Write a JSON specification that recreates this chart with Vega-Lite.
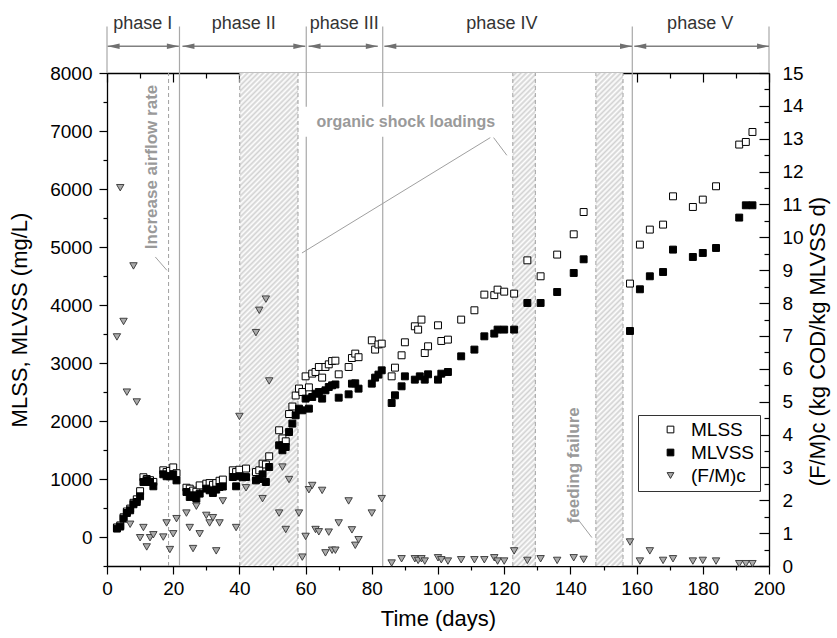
{
"$schema":"https://vega.github.io/schema/vega-lite/v6.json",
"width":662,"height":493,
"autosize":{"type":"none"},
"padding":{"left":107,"top":73,"right":68,"bottom":72},
"background":"white",
"config":{"font":"Liberation Sans","view":{"stroke":null},
"axis":{"grid":false,"domainColor":"#000","tickColor":"#000","labelColor":"#000","titleColor":"#000","titleFontWeight":"normal","domainWidth":1.3,"tickWidth":1.2,"labelFontSize":19,"titleFontSize":22,"labelFont":"Liberation Sans","titleFont":"Liberation Sans","labelOverlap":false,"labelFlush":false,"zindex":1},
"legend":{"orient":"none","legendX":531,"legendY":342,"title":null,"strokeColor":"#333","fillColor":"#fff","padding":5,"symbolOffset":18,"labelOffset":11,"labelFontSize":19,"labelColor":"#000","rowPadding":3,"symbolSize":45,"symbolStrokeWidth":1}},
"layer":[
{"layer":[
{"data":{"values":[{"d":40.1,"d2":155.9,"v":-500,"v2":8000}]},
"mark":{"type":"rect","fill":{"gradient":"linear","x1":0,"y1":0,"x2":0.8613,"y2":1.1078,"stops":[
{"offset":0,"color":"#fff"},{"offset":0.003,"color":"#d2d2d2"},{"offset":0.006,"color":"#fff"},{"offset":0.009,"color":"#d2d2d2"},{"offset":0.012,"color":"#fff"},{"offset":0.015,"color":"#d2d2d2"},{"offset":0.018,"color":"#fff"},{"offset":0.021,"color":"#d2d2d2"},{"offset":0.024,"color":"#fff"},{"offset":0.027,"color":"#d2d2d2"},
{"offset":0.03,"color":"#fff"},{"offset":0.033,"color":"#d2d2d2"},{"offset":0.036,"color":"#fff"},{"offset":0.039,"color":"#d2d2d2"},{"offset":0.042,"color":"#fff"},{"offset":0.045,"color":"#d2d2d2"},{"offset":0.048,"color":"#fff"},{"offset":0.051,"color":"#d2d2d2"},{"offset":0.054,"color":"#fff"},{"offset":0.057,"color":"#d2d2d2"},
{"offset":0.06,"color":"#fff"},{"offset":0.063,"color":"#d2d2d2"},{"offset":0.066,"color":"#fff"},{"offset":0.069,"color":"#d2d2d2"},{"offset":0.072,"color":"#fff"},{"offset":0.075,"color":"#d2d2d2"},{"offset":0.078,"color":"#fff"},{"offset":0.081,"color":"#d2d2d2"},{"offset":0.084,"color":"#fff"},{"offset":0.087,"color":"#d2d2d2"},
{"offset":0.09,"color":"#fff"},{"offset":0.093,"color":"#d2d2d2"},{"offset":0.096,"color":"#fff"},{"offset":0.099,"color":"#d2d2d2"},{"offset":0.102,"color":"#fff"},{"offset":0.105,"color":"#d2d2d2"},{"offset":0.108,"color":"#fff"},{"offset":0.111,"color":"#d2d2d2"},{"offset":0.114,"color":"#fff"},{"offset":0.117,"color":"#d2d2d2"},
{"offset":0.12,"color":"#fff"},{"offset":0.123,"color":"#d2d2d2"},{"offset":0.126,"color":"#fff"},{"offset":0.129,"color":"#d2d2d2"},{"offset":0.132,"color":"#fff"},{"offset":0.135,"color":"#d2d2d2"},{"offset":0.138,"color":"#fff"},{"offset":0.141,"color":"#d2d2d2"},{"offset":0.144,"color":"#fff"},{"offset":0.147,"color":"#d2d2d2"},
{"offset":0.15,"color":"#fff"},{"offset":0.153,"color":"#d2d2d2"},{"offset":0.156,"color":"#fff"},{"offset":0.159,"color":"#d2d2d2"},{"offset":0.162,"color":"#fff"},{"offset":0.165,"color":"#d2d2d2"},{"offset":0.168,"color":"#fff"},{"offset":0.171,"color":"#d2d2d2"},{"offset":0.174,"color":"#fff"},{"offset":0.177,"color":"#d2d2d2"},
{"offset":0.18,"color":"#fff"},{"offset":0.183,"color":"#d2d2d2"},{"offset":0.186,"color":"#fff"},{"offset":0.189,"color":"#d2d2d2"},{"offset":0.192,"color":"#fff"},{"offset":0.195,"color":"#d2d2d2"},{"offset":0.198,"color":"#fff"},{"offset":0.201,"color":"#d2d2d2"},{"offset":0.204,"color":"#fff"},{"offset":0.207,"color":"#d2d2d2"},
{"offset":0.21,"color":"#fff"},{"offset":0.213,"color":"#d2d2d2"},{"offset":0.216,"color":"#fff"},{"offset":0.219,"color":"#d2d2d2"},{"offset":0.222,"color":"#fff"},{"offset":0.225,"color":"#d2d2d2"},{"offset":0.228,"color":"#fff"},{"offset":0.231,"color":"#d2d2d2"},{"offset":0.234,"color":"#fff"},{"offset":0.237,"color":"#d2d2d2"},
{"offset":0.24,"color":"#fff"},{"offset":0.243,"color":"#d2d2d2"},{"offset":0.246,"color":"#fff"},{"offset":0.249,"color":"#d2d2d2"},{"offset":0.252,"color":"#fff"},{"offset":0.255,"color":"#d2d2d2"},{"offset":0.258,"color":"#fff"},{"offset":0.261,"color":"#d2d2d2"},{"offset":0.264,"color":"#fff"},{"offset":0.267,"color":"#d2d2d2"},
{"offset":0.27,"color":"#fff"},{"offset":0.273,"color":"#d2d2d2"},{"offset":0.276,"color":"#fff"},{"offset":0.279,"color":"#d2d2d2"},{"offset":0.282,"color":"#fff"},{"offset":0.285,"color":"#d2d2d2"},{"offset":0.288,"color":"#fff"},{"offset":0.291,"color":"#d2d2d2"},{"offset":0.294,"color":"#fff"},{"offset":0.297,"color":"#d2d2d2"},
{"offset":0.3,"color":"#fff"},{"offset":0.303,"color":"#d2d2d2"},{"offset":0.306,"color":"#fff"},{"offset":0.309,"color":"#d2d2d2"},{"offset":0.312,"color":"#fff"},{"offset":0.315,"color":"#d2d2d2"},{"offset":0.318,"color":"#fff"},{"offset":0.321,"color":"#d2d2d2"},{"offset":0.324,"color":"#fff"},{"offset":0.327,"color":"#d2d2d2"},
{"offset":0.33,"color":"#fff"},{"offset":0.333,"color":"#d2d2d2"},{"offset":0.336,"color":"#fff"},{"offset":0.339,"color":"#d2d2d2"},{"offset":0.342,"color":"#fff"},{"offset":0.345,"color":"#d2d2d2"},{"offset":0.348,"color":"#fff"},{"offset":0.351,"color":"#d2d2d2"},{"offset":0.354,"color":"#fff"},{"offset":0.357,"color":"#d2d2d2"},
{"offset":0.36,"color":"#fff"},{"offset":0.363,"color":"#d2d2d2"},{"offset":0.366,"color":"#fff"},{"offset":0.369,"color":"#d2d2d2"},{"offset":0.372,"color":"#fff"},{"offset":0.375,"color":"#d2d2d2"},{"offset":0.378,"color":"#fff"},{"offset":0.381,"color":"#d2d2d2"},{"offset":0.384,"color":"#fff"},{"offset":0.387,"color":"#d2d2d2"},
{"offset":0.39,"color":"#fff"},{"offset":0.393,"color":"#d2d2d2"},{"offset":0.396,"color":"#fff"},{"offset":0.399,"color":"#d2d2d2"},{"offset":0.402,"color":"#fff"},{"offset":0.405,"color":"#d2d2d2"},{"offset":0.408,"color":"#fff"},{"offset":0.411,"color":"#d2d2d2"},{"offset":0.414,"color":"#fff"},{"offset":0.417,"color":"#d2d2d2"},
{"offset":0.42,"color":"#fff"},{"offset":0.423,"color":"#d2d2d2"},{"offset":0.426,"color":"#fff"},{"offset":0.429,"color":"#d2d2d2"},{"offset":0.432,"color":"#fff"},{"offset":0.435,"color":"#d2d2d2"},{"offset":0.438,"color":"#fff"},{"offset":0.441,"color":"#d2d2d2"},{"offset":0.444,"color":"#fff"},{"offset":0.447,"color":"#d2d2d2"},
{"offset":0.45,"color":"#fff"},{"offset":0.453,"color":"#d2d2d2"},{"offset":0.456,"color":"#fff"},{"offset":0.459,"color":"#d2d2d2"},{"offset":0.462,"color":"#fff"},{"offset":0.465,"color":"#d2d2d2"},{"offset":0.468,"color":"#fff"},{"offset":0.471,"color":"#d2d2d2"},{"offset":0.474,"color":"#fff"},{"offset":0.477,"color":"#d2d2d2"},
{"offset":0.48,"color":"#fff"},{"offset":0.483,"color":"#d2d2d2"},{"offset":0.486,"color":"#fff"},{"offset":0.489,"color":"#d2d2d2"},{"offset":0.492,"color":"#fff"},{"offset":0.495,"color":"#d2d2d2"},{"offset":0.498,"color":"#fff"},{"offset":0.501,"color":"#d2d2d2"},{"offset":0.504,"color":"#fff"},{"offset":0.507,"color":"#d2d2d2"},
{"offset":0.51,"color":"#fff"},{"offset":0.513,"color":"#d2d2d2"},{"offset":0.516,"color":"#fff"},{"offset":0.519,"color":"#d2d2d2"},{"offset":0.522,"color":"#fff"},{"offset":0.525,"color":"#d2d2d2"},{"offset":0.528,"color":"#fff"},{"offset":0.531,"color":"#d2d2d2"},{"offset":0.534,"color":"#fff"},{"offset":0.537,"color":"#d2d2d2"},
{"offset":0.54,"color":"#fff"},{"offset":0.543,"color":"#d2d2d2"},{"offset":0.546,"color":"#fff"},{"offset":0.549,"color":"#d2d2d2"},{"offset":0.552,"color":"#fff"},{"offset":0.555,"color":"#d2d2d2"},{"offset":0.558,"color":"#fff"},{"offset":0.561,"color":"#d2d2d2"},{"offset":0.564,"color":"#fff"},{"offset":0.567,"color":"#d2d2d2"},
{"offset":0.57,"color":"#fff"},{"offset":0.573,"color":"#d2d2d2"},{"offset":0.576,"color":"#fff"},{"offset":0.579,"color":"#d2d2d2"},{"offset":0.582,"color":"#fff"},{"offset":0.585,"color":"#d2d2d2"},{"offset":0.588,"color":"#fff"},{"offset":0.591,"color":"#d2d2d2"},{"offset":0.594,"color":"#fff"},{"offset":0.597,"color":"#d2d2d2"},
{"offset":0.6,"color":"#fff"},{"offset":0.603,"color":"#d2d2d2"},{"offset":0.606,"color":"#fff"},{"offset":0.609,"color":"#d2d2d2"},{"offset":0.612,"color":"#fff"},{"offset":0.615,"color":"#d2d2d2"},{"offset":0.618,"color":"#fff"},{"offset":0.621,"color":"#d2d2d2"},{"offset":0.624,"color":"#fff"},{"offset":0.627,"color":"#d2d2d2"},
{"offset":0.63,"color":"#fff"},{"offset":0.633,"color":"#d2d2d2"},{"offset":0.636,"color":"#fff"},{"offset":0.639,"color":"#d2d2d2"},{"offset":0.642,"color":"#fff"},{"offset":0.645,"color":"#d2d2d2"},{"offset":0.648,"color":"#fff"},{"offset":0.651,"color":"#d2d2d2"},{"offset":0.654,"color":"#fff"},{"offset":0.657,"color":"#d2d2d2"},
{"offset":0.66,"color":"#fff"},{"offset":0.663,"color":"#d2d2d2"},{"offset":0.666,"color":"#fff"},{"offset":0.669,"color":"#d2d2d2"},{"offset":0.672,"color":"#fff"},{"offset":0.675,"color":"#d2d2d2"},{"offset":0.678,"color":"#fff"},{"offset":0.681,"color":"#d2d2d2"},{"offset":0.684,"color":"#fff"},{"offset":0.687,"color":"#d2d2d2"},
{"offset":0.69,"color":"#fff"},{"offset":0.693,"color":"#d2d2d2"},{"offset":0.696,"color":"#fff"},{"offset":0.699,"color":"#d2d2d2"},{"offset":0.702,"color":"#fff"},{"offset":0.705,"color":"#d2d2d2"},{"offset":0.708,"color":"#fff"},{"offset":0.711,"color":"#d2d2d2"},{"offset":0.714,"color":"#fff"},{"offset":0.717,"color":"#d2d2d2"},
{"offset":0.72,"color":"#fff"},{"offset":0.723,"color":"#d2d2d2"},{"offset":0.726,"color":"#fff"},{"offset":0.729,"color":"#d2d2d2"},{"offset":0.732,"color":"#fff"},{"offset":0.735,"color":"#d2d2d2"},{"offset":0.738,"color":"#fff"},{"offset":0.741,"color":"#d2d2d2"},{"offset":0.744,"color":"#fff"},{"offset":0.747,"color":"#d2d2d2"},
{"offset":0.75,"color":"#fff"},{"offset":0.753,"color":"#d2d2d2"},{"offset":0.756,"color":"#fff"},{"offset":0.759,"color":"#d2d2d2"},{"offset":0.762,"color":"#fff"},{"offset":0.765,"color":"#d2d2d2"},{"offset":0.768,"color":"#fff"},{"offset":0.771,"color":"#d2d2d2"},{"offset":0.774,"color":"#fff"},{"offset":0.777,"color":"#d2d2d2"},
{"offset":0.78,"color":"#fff"},{"offset":0.783,"color":"#d2d2d2"},{"offset":0.786,"color":"#fff"},{"offset":0.789,"color":"#d2d2d2"},{"offset":0.792,"color":"#fff"},{"offset":0.795,"color":"#d2d2d2"},{"offset":0.798,"color":"#fff"},{"offset":0.801,"color":"#d2d2d2"},{"offset":0.804,"color":"#fff"},{"offset":0.807,"color":"#d2d2d2"},
{"offset":0.81,"color":"#fff"},{"offset":0.813,"color":"#d2d2d2"},{"offset":0.816,"color":"#fff"},{"offset":0.819,"color":"#d2d2d2"},{"offset":0.822,"color":"#fff"},{"offset":0.825,"color":"#d2d2d2"},{"offset":0.828,"color":"#fff"},{"offset":0.831,"color":"#d2d2d2"},{"offset":0.834,"color":"#fff"},{"offset":0.837,"color":"#d2d2d2"},
{"offset":0.84,"color":"#fff"},{"offset":0.843,"color":"#d2d2d2"},{"offset":0.846,"color":"#fff"},{"offset":0.849,"color":"#d2d2d2"},{"offset":0.852,"color":"#fff"},{"offset":0.855,"color":"#d2d2d2"},{"offset":0.858,"color":"#fff"},{"offset":0.861,"color":"#d2d2d2"},{"offset":0.864,"color":"#fff"},{"offset":0.867,"color":"#d2d2d2"},
{"offset":0.87,"color":"#fff"},{"offset":0.873,"color":"#d2d2d2"},{"offset":0.876,"color":"#fff"},{"offset":0.879,"color":"#d2d2d2"},{"offset":0.882,"color":"#fff"},{"offset":0.885,"color":"#d2d2d2"},{"offset":0.888,"color":"#fff"},{"offset":0.891,"color":"#d2d2d2"},{"offset":0.894,"color":"#fff"},{"offset":0.897,"color":"#d2d2d2"},
{"offset":0.9,"color":"#fff"},{"offset":0.903,"color":"#d2d2d2"},{"offset":0.906,"color":"#fff"},{"offset":0.909,"color":"#d2d2d2"},{"offset":0.912,"color":"#fff"},{"offset":0.915,"color":"#d2d2d2"},{"offset":0.918,"color":"#fff"},{"offset":0.921,"color":"#d2d2d2"},{"offset":0.924,"color":"#fff"},{"offset":0.927,"color":"#d2d2d2"},
{"offset":0.93,"color":"#fff"},{"offset":0.933,"color":"#d2d2d2"},{"offset":0.936,"color":"#fff"},{"offset":0.939,"color":"#d2d2d2"},{"offset":0.942,"color":"#fff"},{"offset":0.945,"color":"#d2d2d2"},{"offset":0.948,"color":"#fff"},{"offset":0.951,"color":"#d2d2d2"},{"offset":0.954,"color":"#fff"},{"offset":0.957,"color":"#d2d2d2"},
{"offset":0.96,"color":"#fff"},{"offset":0.963,"color":"#d2d2d2"},{"offset":0.966,"color":"#fff"},{"offset":0.969,"color":"#d2d2d2"},{"offset":0.972,"color":"#fff"},{"offset":0.975,"color":"#d2d2d2"},{"offset":0.978,"color":"#fff"},{"offset":0.981,"color":"#d2d2d2"},{"offset":0.984,"color":"#fff"},{"offset":0.987,"color":"#d2d2d2"},
{"offset":0.99,"color":"#fff"},{"offset":0.993,"color":"#d2d2d2"},{"offset":0.996,"color":"#fff"},{"offset":0.999,"color":"#d2d2d2"},{"offset":1,"color":"#fff"}
]}},
"encoding":{
"x":{"field":"d","type":"quantitative","scale":{"domain":[0,200],"nice":false,"zero":false},"axis":{"orient":"bottom","title":"Time (days)","values":[0,20,40,60,80,100,120,140,160,180,200],"format":"d","tickSize":8,"labelPadding":5,"titlePadding":10}},
"x2":{"field":"d2"},
"y":{"field":"v","type":"quantitative","scale":{"domain":[-500,8000],"nice":false,"zero":false},"axis":{"orient":"left","title":"MLSS, MLVSS (mg/L)","values":[0,1000,2000,3000,4000,5000,6000,7000,8000],"format":"d","tickSize":8,"labelPadding":7,"titlePadding":18}},
"y2":{"field":"v2"}}},
{"data":{"values":[{"d":57.75,"d2":122.55,"v":-500,"v2":8000},{"d":129.45,"d2":147.65,"v":-500,"v2":8000}]},
"mark":{"type":"rect","fill":"#ffffff"},
"encoding":{"x":{"field":"d","type":"quantitative","axis":{"orient":"bottom","title":null,"values":[10,30,50,70,90,110,130,150,170,190],"labels":false,"domain":false,"tickSize":4}},"x2":{"field":"d2"},"y":{"field":"v","type":"quantitative","axis":{"orient":"left","title":null,"values":[-500,500,1500,2500,3500,4500,5500,6500,7500],"labels":false,"domain":false,"tickSize":4}},"y2":{"field":"v2"}}},
{"data":{"values":[{"d":18.6,"v":-500,"v2":8000},{"d":40.1,"v":-500,"v2":8000},{"d":57.7,"v":-500,"v2":8000},{"d":122.6,"v":-500,"v2":8000},{"d":129.4,"v":-500,"v2":8000},{"d":147.7,"v":-500,"v2":8000},{"d":155.9,"v":-500,"v2":8000}]},
"mark":{"type":"rule","color":"#a0a0a0","strokeWidth":1,"strokeDash":[4,3]},
"encoding":{"x":{"field":"d","type":"quantitative","axis":{"orient":"top","title":null,"values":[0,20,40,60,80,100,120,140,160,180,200],"labels":false,"tickSize":-9}},"y":{"field":"v","type":"quantitative","axis":null},"y2":{"field":"v2"}}},
{"data":{"values":[{"d":21.9,"v":-500,"v2":8800},{"d":60.2,"v":-500,"v2":8800},{"d":83.3,"v":-500,"v2":8800},{"d":158.7,"v":-500,"v2":8800},{"d":0,"v":8000,"v2":8800},{"d":200,"v":8000,"v2":8800}]},
"mark":{"type":"rule","color":"#a8a8a8","strokeWidth":1.2},
"encoding":{"x":{"field":"d","type":"quantitative","axis":{"orient":"top","title":null,"values":[10,30,50,70,90,110,130,150,170,190],"labels":false,"domain":false,"tickSize":-5}},"y":{"field":"v","type":"quantitative","axis":null},"y2":{"field":"v2"}}},
{"data":{"values":[{"d":59.4,"d2":121.5,"v":6900,"v2":7420}]},
"mark":{"type":"rect","fill":"#ffffff"},
"encoding":{"x":{"field":"d","type":"quantitative","axis":null},"x2":{"field":"d2"},"y":{"field":"v","type":"quantitative","axis":null},"y2":{"field":"v2"}}},
{"data":{"values":[{"d":14.6,"v":4828,"d2":18.1,"v2":4598},{"d":115.8,"v":6886,"d2":58.9,"v2":4897},{"d":116.8,"v":6886,"d2":120.8,"v2":6581},{"d":142.5,"v":288,"d2":146.5,"v2":-10}]},
"mark":{"type":"rule","color":"#a0a0a0","strokeWidth":1},
"encoding":{"x":{"field":"d","type":"quantitative","axis":null},"x2":{"field":"d2"},"y":{"field":"v","type":"quantitative","axis":null},"y2":{"field":"v2"}}},
{"data":{"values":[{"d":0.2,"d2":21.7,"v":8460},{"d":22.8,"d2":59.9,"v":8460},{"d":60.9,"d2":81.8,"v":8460},{"d":83.8,"d2":158.6,"v":8460},{"d":159.3,"d2":200,"v":8460}]},
"mark":{"type":"rule","color":"#808080","strokeWidth":1.5},
"encoding":{"x":{"field":"d","type":"quantitative","axis":null},"x2":{"field":"d2"},"y":{"field":"v","type":"quantitative","axis":null}}},
{"data":{"values":[{"d":19.9,"v":8460},{"d":58.1,"v":8460},{"d":80.0,"v":8460},{"d":156.8,"v":8460},{"d":198.2,"v":8460}]},
"mark":{"type":"point","shape":"M1,0L-1,-0.45L-1,0.45Z","size":144,"filled":true,"fill":"#707070","stroke":null,"opacity":1},
"encoding":{"x":{"field":"d","type":"quantitative","axis":null},"y":{"field":"v","type":"quantitative","axis":null}}},
{"data":{"values":[{"d":2.0,"v":8460},{"d":24.6,"v":8460},{"d":62.7,"v":8460},{"d":85.6,"v":8460},{"d":161.1,"v":8460}]},
"mark":{"type":"point","shape":"M-1,0L1,-0.45L1,0.45Z","size":144,"filled":true,"fill":"#707070","stroke":null,"opacity":1},
"encoding":{"x":{"field":"d","type":"quantitative","axis":null},"y":{"field":"v","type":"quantitative","axis":null}}},
{"data":{"values":[{"d":10.8,"v":8850,"t":"phase I"},{"d":41.3,"v":8850,"t":"phase II"},{"d":71.7,"v":8850,"t":"phase III"},{"d":119.3,"v":8850,"t":"phase IV"},{"d":179.2,"v":8850,"t":"phase V"}]},
"mark":{"type":"text","fontSize":18,"color":"#333333","align":"center","baseline":"middle"},
"encoding":{"x":{"field":"d","type":"quantitative","axis":null},"y":{"field":"v","type":"quantitative","axis":null},"text":{"field":"t"}}},
{"data":{"values":[{"d":90.3,"v":7155,"t":"organic shock loadings"}]},
"mark":{"type":"text","fontSize":16,"fontWeight":"bold","color":"#9a9a9a","align":"center","baseline":"middle"},
"encoding":{"x":{"field":"d","type":"quantitative","axis":null},"y":{"field":"v","type":"quantitative","axis":null},"text":{"field":"t"}}},
{"data":{"values":[{"d":13.6,"v":6380,"t":"Increase airflow rate"},{"d":141.2,"v":1236,"t":"feeding failure"}]},
"mark":{"type":"text","fontSize":17,"fontWeight":"bold","color":"#9a9a9a","align":"center","baseline":"middle","angle":270},
"encoding":{"x":{"field":"d","type":"quantitative","axis":null},"y":{"field":"v","type":"quantitative","axis":null},"text":{"field":"t"}}},
{"data":{"values":[
{"d":3,"v":165,"s":"MLSS"},{"d":4,"v":200,"s":"MLSS"},{"d":5,"v":340,"s":"MLSS"},{"d":6,"v":440,"s":"MLSS"},{"d":7,"v":490,"s":"MLSS"},{"d":8,"v":590,"s":"MLSS"},{"d":9,"v":650,"s":"MLSS"},{"d":10,"v":790,"s":"MLSS"},{"d":11,"v":1030,"s":"MLSS"},{"d":12,"v":1000,"s":"MLSS"},{"d":13,"v":980,"s":"MLSS"},{"d":14,"v":950,"s":"MLSS"},{"d":17,"v":1150,"s":"MLSS"},{"d":18,"v":1120,"s":"MLSS"},{"d":19,"v":1140,"s":"MLSS"},{"d":20,"v":1200,"s":"MLSS"},{"d":21,"v":1100,"s":"MLSS"},{"d":24,"v":850,"s":"MLSS"},{"d":25,"v":834,"s":"MLSS"},{"d":26,"v":800,"s":"MLSS"},{"d":27,"v":780,"s":"MLSS"},{"d":28,"v":890,"s":"MLSS"},{"d":30,"v":920,"s":"MLSS"},{"d":31,"v":930,"s":"MLSS"},{"d":32,"v":900,"s":"MLSS"},{"d":33,"v":930,"s":"MLSS"},{"d":34,"v":970,"s":"MLSS"},{"d":35,"v":990,"s":"MLSS"},{"d":38,"v":1150,"s":"MLSS"},{"d":39,"v":1120,"s":"MLSS"},{"d":40,"v":1160,"s":"MLSS"},{"d":42,"v":1180,"s":"MLSS"},{"d":45,"v":1120,"s":"MLSS"},{"d":46,"v":1150,"s":"MLSS"},{"d":47,"v":1265,"s":"MLSS"},{"d":48,"v":1250,"s":"MLSS"},{"d":49,"v":1391,"s":"MLSS"},{"d":52,"v":1840,"s":"MLSS"},{"d":53,"v":1700,"s":"MLSS"},{"d":54,"v":1650,"s":"MLSS"},{"d":55,"v":2120,"s":"MLSS"},{"d":56,"v":2250,"s":"MLSS"},{"d":57,"v":2440,"s":"MLSS"},{"d":58,"v":2560,"s":"MLSS"},{"d":59,"v":2500,"s":"MLSS"},{"d":60,"v":2770,"s":"MLSS"},{"d":61,"v":2580,"s":"MLSS"},{"d":62,"v":2817,"s":"MLSS"},{"d":63,"v":2845,"s":"MLSS"},{"d":64,"v":2931,"s":"MLSS"},{"d":65,"v":2748,"s":"MLSS"},{"d":66,"v":2931,"s":"MLSS"},{"d":67,"v":2977,"s":"MLSS"},{"d":68,"v":3034,"s":"MLSS"},{"d":69,"v":3040,"s":"MLSS"},{"d":70,"v":2805,"s":"MLSS"},{"d":73,"v":2931,"s":"MLSS"},{"d":74,"v":3086,"s":"MLSS"},{"d":75,"v":3162,"s":"MLSS"},{"d":76,"v":3100,"s":"MLSS"},{"d":80,"v":3391,"s":"MLSS"},{"d":81,"v":3231,"s":"MLSS"},{"d":82,"v":3320,"s":"MLSS"},{"d":83,"v":3334,"s":"MLSS"},{"d":86,"v":2770,"s":"MLSS"},{"d":87,"v":2920,"s":"MLSS"},{"d":89,"v":3133,"s":"MLSS"},{"d":90,"v":3357,"s":"MLSS"},{"d":93,"v":3633,"s":"MLSS"},{"d":94,"v":3575,"s":"MLSS"},{"d":95,"v":3748,"s":"MLSS"},{"d":96,"v":3172,"s":"MLSS"},{"d":97,"v":3288,"s":"MLSS"},{"d":100,"v":3650,"s":"MLSS"},{"d":101,"v":3380,"s":"MLSS"},{"d":103,"v":3403,"s":"MLSS"},{"d":107,"v":3748,"s":"MLSS"},{"d":111,"v":3909,"s":"MLSS"},{"d":114,"v":4179,"s":"MLSS"},{"d":117,"v":4170,"s":"MLSS"},{"d":118,"v":4265,"s":"MLSS"},{"d":120,"v":4230,"s":"MLSS"},{"d":123,"v":4196,"s":"MLSS"},{"d":127,"v":4770,"s":"MLSS"},{"d":131,"v":4495,"s":"MLSS"},{"d":136,"v":4869,"s":"MLSS"},{"d":141,"v":5219,"s":"MLSS"},{"d":144,"v":5603,"s":"MLSS"},{"d":158,"v":4369,"s":"MLSS"},{"d":161,"v":5041,"s":"MLSS"},{"d":164,"v":5300,"s":"MLSS"},{"d":168,"v":5386,"s":"MLSS"},{"d":171,"v":5874,"s":"MLSS"},{"d":177,"v":5690,"s":"MLSS"},{"d":180,"v":5817,"s":"MLSS"},{"d":184,"v":6047,"s":"MLSS"},{"d":191,"v":6766,"s":"MLSS"},{"d":193,"v":6811,"s":"MLSS"},{"d":195,"v":6983,"s":"MLSS"},
{"d":3,"v":145,"s":"MLVSS"},{"d":4,"v":180,"s":"MLVSS"},{"d":5,"v":317,"s":"MLVSS"},{"d":6,"v":414,"s":"MLVSS"},{"d":7,"v":460,"s":"MLVSS"},{"d":8,"v":564,"s":"MLVSS"},{"d":9,"v":604,"s":"MLVSS"},{"d":10,"v":702,"s":"MLVSS"},{"d":11,"v":948,"s":"MLVSS"},{"d":12,"v":978,"s":"MLVSS"},{"d":13,"v":948,"s":"MLVSS"},{"d":14,"v":874,"s":"MLVSS"},{"d":17,"v":1081,"s":"MLVSS"},{"d":18,"v":1047,"s":"MLVSS"},{"d":19,"v":1047,"s":"MLVSS"},{"d":20,"v":1081,"s":"MLVSS"},{"d":21,"v":976,"s":"MLVSS"},{"d":24,"v":776,"s":"MLVSS"},{"d":25,"v":690,"s":"MLVSS"},{"d":26,"v":719,"s":"MLVSS"},{"d":27,"v":661,"s":"MLVSS"},{"d":28,"v":748,"s":"MLVSS"},{"d":30,"v":834,"s":"MLVSS"},{"d":31,"v":805,"s":"MLVSS"},{"d":32,"v":759,"s":"MLVSS"},{"d":33,"v":817,"s":"MLVSS"},{"d":34,"v":862,"s":"MLVSS"},{"d":35,"v":870,"s":"MLVSS"},{"d":38,"v":1034,"s":"MLVSS"},{"d":39,"v":874,"s":"MLVSS"},{"d":40,"v":1047,"s":"MLVSS"},{"d":41,"v":1030,"s":"MLVSS"},{"d":42,"v":1034,"s":"MLVSS"},{"d":45,"v":976,"s":"MLVSS"},{"d":46,"v":1000,"s":"MLVSS"},{"d":47,"v":1081,"s":"MLVSS"},{"d":48,"v":948,"s":"MLVSS"},{"d":49,"v":1207,"s":"MLVSS"},{"d":52,"v":1581,"s":"MLVSS"},{"d":53,"v":1495,"s":"MLVSS"},{"d":54,"v":1552,"s":"MLVSS"},{"d":55,"v":1810,"s":"MLVSS"},{"d":56,"v":1955,"s":"MLVSS"},{"d":57,"v":2098,"s":"MLVSS"},{"d":58,"v":2213,"s":"MLVSS"},{"d":59,"v":2184,"s":"MLVSS"},{"d":60,"v":2386,"s":"MLVSS"},{"d":61,"v":2213,"s":"MLVSS"},{"d":62,"v":2414,"s":"MLVSS"},{"d":63,"v":2470,"s":"MLVSS"},{"d":64,"v":2500,"s":"MLVSS"},{"d":65,"v":2386,"s":"MLVSS"},{"d":66,"v":2529,"s":"MLVSS"},{"d":67,"v":2586,"s":"MLVSS"},{"d":68,"v":2615,"s":"MLVSS"},{"d":69,"v":2630,"s":"MLVSS"},{"d":70,"v":2402,"s":"MLVSS"},{"d":73,"v":2460,"s":"MLVSS"},{"d":74,"v":2644,"s":"MLVSS"},{"d":75,"v":2650,"s":"MLVSS"},{"d":76,"v":2558,"s":"MLVSS"},{"d":80,"v":2644,"s":"MLVSS"},{"d":81,"v":2748,"s":"MLVSS"},{"d":82,"v":2800,"s":"MLVSS"},{"d":83,"v":2874,"s":"MLVSS"},{"d":86,"v":2310,"s":"MLVSS"},{"d":87,"v":2443,"s":"MLVSS"},{"d":89,"v":2598,"s":"MLVSS"},{"d":90,"v":2770,"s":"MLVSS"},{"d":93,"v":2713,"s":"MLVSS"},{"d":94.5,"v":2770,"s":"MLVSS"},{"d":96,"v":2713,"s":"MLVSS"},{"d":97,"v":2805,"s":"MLVSS"},{"d":100,"v":2713,"s":"MLVSS"},{"d":101,"v":2816,"s":"MLVSS"},{"d":103,"v":2845,"s":"MLVSS"},{"d":107,"v":3115,"s":"MLVSS"},{"d":111,"v":3231,"s":"MLVSS"},{"d":114,"v":3460,"s":"MLVSS"},{"d":117,"v":3507,"s":"MLVSS"},{"d":118,"v":3576,"s":"MLVSS"},{"d":120,"v":3576,"s":"MLVSS"},{"d":123,"v":3576,"s":"MLVSS"},{"d":127,"v":4035,"s":"MLVSS"},{"d":131,"v":4035,"s":"MLVSS"},{"d":136,"v":4224,"s":"MLVSS"},{"d":141,"v":4552,"s":"MLVSS"},{"d":144,"v":4788,"s":"MLVSS"},{"d":158,"v":3552,"s":"MLVSS"},{"d":161,"v":4271,"s":"MLVSS"},{"d":164,"v":4495,"s":"MLVSS"},{"d":168,"v":4569,"s":"MLVSS"},{"d":171,"v":4955,"s":"MLVSS"},{"d":177,"v":4828,"s":"MLVSS"},{"d":180,"v":4897,"s":"MLVSS"},{"d":184,"v":4983,"s":"MLVSS"},{"d":191,"v":5507,"s":"MLVSS"},{"d":193,"v":5719,"s":"MLVSS"},{"d":195,"v":5719,"s":"MLVSS"}
]},
"mark":{"type":"point","filled":true,"size":48,"strokeWidth":1,"opacity":1},
"encoding":{"x":{"field":"d","type":"quantitative","axis":null},"y":{"field":"v","type":"quantitative","axis":null},
"shape":{"field":"s","type":"nominal","scale":{"domain":["MLSS","MLVSS","(F/M)c"],"range":["square","square","triangle-down"]}},
"fill":{"field":"s","type":"nominal","scale":{"domain":["MLSS","MLVSS","(F/M)c"],"range":["#ffffff","#000000","#aaaaaa"]}},
"stroke":{"field":"s","type":"nominal","scale":{"domain":["MLSS","MLVSS","(F/M)c"],"range":["#000000","#000000","#333333"]}}}}
],
"resolve":{"axis":{"x":"independent","y":"independent"}}},
{"data":{"values":[
{"d":3,"f":6.97,"s":"(F/M)c"},{"d":4,"f":11.51,"s":"(F/M)c"},{"d":5,"f":7.44,"s":"(F/M)c"},{"d":6,"f":5.29,"s":"(F/M)c"},{"d":7,"f":1.27,"s":"(F/M)c"},{"d":8,"f":9.13,"s":"(F/M)c"},{"d":9,"f":4.99,"s":"(F/M)c"},{"d":10,"f":0.86,"s":"(F/M)c"},{"d":11,"f":1.17,"s":"(F/M)c"},{"d":12,"f":0.58,"s":"(F/M)c"},{"d":13,"f":0.86,"s":"(F/M)c"},{"d":14,"f":0.95,"s":"(F/M)c"},{"d":17,"f":0.88,"s":"(F/M)c"},{"d":18,"f":1.31,"s":"(F/M)c"},{"d":19,"f":0.5,"s":"(F/M)c"},{"d":20,"f":0.98,"s":"(F/M)c"},{"d":21,"f":1.44,"s":"(F/M)c"},{"d":24,"f":1.61,"s":"(F/M)c"},{"d":25,"f":1.17,"s":"(F/M)c"},{"d":26,"f":0.53,"s":"(F/M)c"},{"d":27,"f":1.82,"s":"(F/M)c"},{"d":28,"f":0.98,"s":"(F/M)c"},{"d":30,"f":1.54,"s":"(F/M)c"},{"d":31,"f":1.31,"s":"(F/M)c"},{"d":32,"f":1.47,"s":"(F/M)c"},{"d":33,"f":0.46,"s":"(F/M)c"},{"d":34,"f":1.31,"s":"(F/M)c"},{"d":35,"f":1.98,"s":"(F/M)c"},{"d":39,"f":1.17,"s":"(F/M)c"},{"d":40,"f":4.55,"s":"(F/M)c"},{"d":42,"f":2.38,"s":"(F/M)c"},{"d":45,"f":7.1,"s":"(F/M)c"},{"d":46,"f":7.78,"s":"(F/M)c"},{"d":47,"f":2.05,"s":"(F/M)c"},{"d":48,"f":8.12,"s":"(F/M)c"},{"d":49,"f":5.63,"s":"(F/M)c"},{"d":52,"f":1.61,"s":"(F/M)c"},{"d":53,"f":3.01,"s":"(F/M)c"},{"d":54,"f":1.11,"s":"(F/M)c"},{"d":55,"f":2.63,"s":"(F/M)c"},{"d":58,"f":1.61,"s":"(F/M)c"},{"d":59,"f":0.27,"s":"(F/M)c"},{"d":60,"f":0.9,"s":"(F/M)c"},{"d":61,"f":2.32,"s":"(F/M)c"},{"d":62,"f":2.45,"s":"(F/M)c"},{"d":63,"f":1.11,"s":"(F/M)c"},{"d":64,"f":1.04,"s":"(F/M)c"},{"d":65,"f":2.3,"s":"(F/M)c"},{"d":66,"f":0.4,"s":"(F/M)c"},{"d":67,"f":1.03,"s":"(F/M)c"},{"d":68,"f":0.48,"s":"(F/M)c"},{"d":69,"f":0.48,"s":"(F/M)c"},{"d":70,"f":1.31,"s":"(F/M)c"},{"d":73,"f":1.98,"s":"(F/M)c"},{"d":74,"f":1.1,"s":"(F/M)c"},{"d":75,"f":0.63,"s":"(F/M)c"},{"d":76,"f":0.8,"s":"(F/M)c"},{"d":80,"f":1.61,"s":"(F/M)c"},{"d":83,"f":2.05,"s":"(F/M)c"},{"d":86,"f":0.09,"s":"(F/M)c"},{"d":89,"f":0.22,"s":"(F/M)c"},{"d":93,"f":0.22,"s":"(F/M)c"},{"d":94,"f":0.17,"s":"(F/M)c"},{"d":95,"f":0.22,"s":"(F/M)c"},{"d":96,"f":0.15,"s":"(F/M)c"},{"d":100,"f":0.25,"s":"(F/M)c"},{"d":101,"f":0.19,"s":"(F/M)c"},{"d":103,"f":0.15,"s":"(F/M)c"},{"d":107,"f":0.19,"s":"(F/M)c"},{"d":111,"f":0.19,"s":"(F/M)c"},{"d":114,"f":0.19,"s":"(F/M)c"},{"d":117,"f":0.25,"s":"(F/M)c"},{"d":118,"f":0.15,"s":"(F/M)c"},{"d":120,"f":0.15,"s":"(F/M)c"},{"d":123,"f":0.46,"s":"(F/M)c"},{"d":127,"f":0.17,"s":"(F/M)c"},{"d":131,"f":0.22,"s":"(F/M)c"},{"d":136,"f":0.17,"s":"(F/M)c"},{"d":141,"f":0.25,"s":"(F/M)c"},{"d":144,"f":0.2,"s":"(F/M)c"},{"d":158,"f":0.73,"s":"(F/M)c"},{"d":161,"f":0.15,"s":"(F/M)c"},{"d":164,"f":0.46,"s":"(F/M)c"},{"d":168,"f":0.17,"s":"(F/M)c"},{"d":171,"f":0.22,"s":"(F/M)c"},{"d":177,"f":0.15,"s":"(F/M)c"},{"d":180,"f":0.17,"s":"(F/M)c"},{"d":184,"f":0.15,"s":"(F/M)c"},{"d":191,"f":0.07,"s":"(F/M)c"},{"d":193,"f":0.07,"s":"(F/M)c"},{"d":195,"f":0.07,"s":"(F/M)c"}
]},
"mark":{"type":"point","filled":true,"size":55,"strokeWidth":0.9,"opacity":1},
"encoding":{
"x":{"field":"d","type":"quantitative","scale":{"domain":[0,200],"nice":false,"zero":false},"axis":null},
"y":{"field":"f","type":"quantitative","scale":{"domain":[0,15],"nice":false,"zero":false},"axis":{"orient":"right","title":"(F/M)c (kg COD/kg MLVSS d)","titleAngle":270,"titleY":268,"values":[0,0.5,1,1.5,2,2.5,3,3.5,4,4.5,5,5.5,6,6.5,7,7.5,8,8.5,9,9.5,10,10.5,11,11.5,12,12.5,13,13.5,14,14.5,15],"labelExpr":"datum.value % 1 === 0 ? '' + datum.value : ''","tickSize":{"condition":{"test":"datum.value % 1 === 0","value":-10},"value":-5},"labelPadding":23,"titlePadding":26}},
"shape":{"field":"s","type":"nominal","scale":{"domain":["MLSS","MLVSS","(F/M)c"],"range":["square","square","triangle-down"]}},
"fill":{"field":"s","type":"nominal","scale":{"domain":["MLSS","MLVSS","(F/M)c"],"range":["#ffffff","#000000","#aaaaaa"]}},
"stroke":{"field":"s","type":"nominal","scale":{"domain":["MLSS","MLVSS","(F/M)c"],"range":["#000000","#000000","#333333"]}}}}
],
"resolve":{"scale":{"y":"independent"},"axis":{"x":"independent","y":"independent"}}
}
